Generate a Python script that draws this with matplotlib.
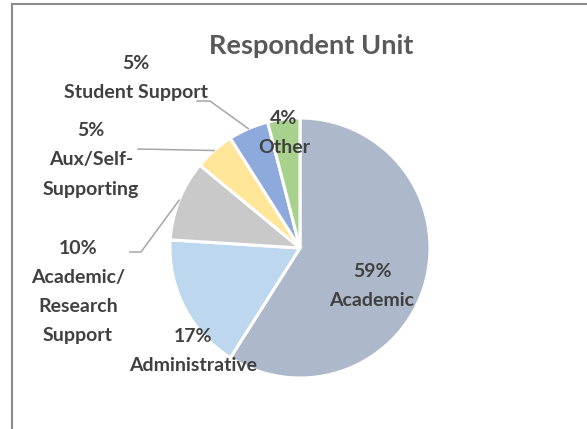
import matplotlib.pyplot as plt
from matplotlib.lines import Line2D
import numpy as np

# data
units = ['Academic', 'Administrative', 'Academic/\nResearch\nSupport',
         'Aux/Self-\nSupporting', 'Student Support', 'Other']
shares = [59, 17, 10, 5, 5, 4]
colors = ['#ADB9CA', '#BDD7EE', '#C9C9C9', '#FFE699', '#8EA9DB', '#A9D18E']

W, H = 587, 429
cx, cy, R = 300, 248, 130  # pie centre / radius in pixels (from top-left)

fig = plt.figure(figsize=(W / 100, H / 100), dpi=100)
ax = fig.add_axes([(cx - R) / W, (H - cy - R) / H, 2 * R / W, 2 * R / H])

wedges, _ = ax.pie(shares, colors=colors, startangle=90, counterclock=False,
                   radius=1, wedgeprops=dict(edgecolor='white', linewidth=2.2))
ax.set_xlim(-1, 1)
ax.set_ylim(-1, 1)
ax.axis('off')


def px(x, y):
    # pixel position -> data coords
    return (x - cx) / R, (cy - y) / R


font = dict(family=['Lato', 'DejaVu Sans'], fontweight='bold', color='#404040', fontsize=14)

# label positions in pixels (centre of text block)
label_pos = [(372, 286), (193, 351), (78, 292), (91, 160), (136, 78), (284, 133)]
for name, val, (lx, ly) in zip(units, shares, label_pos):
    x, y = px(lx, ly)
    ax.text(x, y, f'{val}%\n{name}', ha='center', va='center', linespacing=1.88,
            clip_on=False, **font)

# leader lines for the outside labels
mids = []
acc = 0
for v in shares:
    mids.append(90 - (acc + v / 2) / sum(shares) * 360)
    acc += v
elbows = {2: [(141, 252), (130, 252)], 3: [(138, 149)], 4: [(210, 101), (197, 101)]}
for i, pts in elbows.items():
    a = np.deg2rad(mids[i])
    xs = [np.cos(a)] + [px(*p)[0] for p in pts]
    ys = [np.sin(a)] + [px(*p)[1] for p in pts]
    ax.plot(xs, ys, color='#A6A6A6', lw=1.1, clip_on=False)

fig.text(311 / W, 1 - 46 / H, 'Respondent Unit', ha='center', va='center',
         family=['Lato', 'DejaVu Sans'], fontweight='bold', fontsize=19.5, color='#595959')

# chart frame (only top and left visible)
fig.add_artist(Line2D([12 / W, 1], [1 - 4 / H, 1 - 4 / H], color='#8C8C8C', lw=1.5,
                      transform=fig.transFigure))
fig.add_artist(Line2D([12 / W, 12 / W], [0, 1 - 4 / H], color='#8C8C8C', lw=1.5,
                      transform=fig.transFigure))

fig.savefig('out.png', dpi=100)
